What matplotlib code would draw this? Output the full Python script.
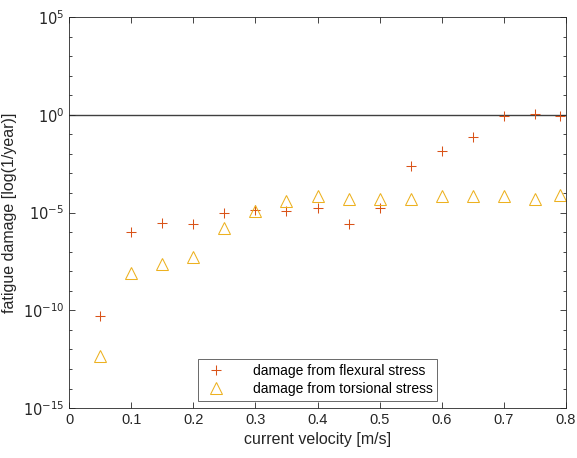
import matplotlib
matplotlib.use("Agg")
import matplotlib.pyplot as plt
from matplotlib.ticker import FixedLocator, NullFormatter
import numpy as np

plt.rcParams["font.family"] = ["Liberation Sans", "DejaVu Sans"]

# current velocity [m/s]
velocity = [0.05, 0.10, 0.15, 0.20, 0.25, 0.30, 0.35, 0.40,
            0.45, 0.50, 0.55, 0.60, 0.65, 0.70, 0.75, 0.79]
# log10 of damage
flexural_exp = [-10.29, -6.01, -5.53, -5.60, -5.04, -4.87, -4.92, -4.75,
                -5.60, -4.77, -2.60, -1.84, -1.12, -0.05, 0.04, -0.05]
torsional_exp = [-12.34, -8.08, -7.65, -7.29, -5.81, -4.90, -4.39, -4.15,
                 -4.31, -4.31, -4.31, -4.14, -4.14, -4.14, -4.31, -4.12]

flexural = [10 ** e for e in flexural_exp]
torsional = [10 ** e for e in torsional_exp]

c_flex = (0.850, 0.325, 0.098)
c_tors = (0.929, 0.694, 0.125)
axcol = (0.15, 0.15, 0.15)

fig = plt.figure(figsize=(5.77, 4.58), dpi=100)
ax = fig.add_axes([0.1196, 0.109, 0.8614, 0.854])

ax.axhline(1.0, color=(0.25, 0.25, 0.25), linewidth=1.0, zorder=1)
ax.plot(velocity, flexural, linestyle="none", marker="+", markersize=7,
        markeredgewidth=0.75, color=c_flex, label="damage from flexural stress")
ax.plot(velocity, torsional, linestyle="none", marker="^", markersize=8,
        markerfacecolor="none", markeredgewidth=0.75, color=c_tors,
        label="damage from torsional stress")

ax.set_yscale("log")
ax.set_xlim(0, 0.8)
ax.set_ylim(1e-15, 1e5)
ax.set_xticks(np.arange(0, 0.81, 0.1))
ax.set_xticklabels(["0", "0.1", "0.2", "0.3", "0.4", "0.5", "0.6", "0.7", "0.8"])
ax.yaxis.set_major_locator(FixedLocator([1e-15, 1e-10, 1e-5, 1e0, 1e5]))
ax.set_yticklabels([r"$10^{-15}$", r"$10^{-10}$", r"$10^{-5}$", r"$10^{0}$", r"$10^{5}$"])
ax.yaxis.set_minor_locator(FixedLocator([10.0 ** k for k in range(-15, 6)]))
ax.yaxis.set_minor_formatter(NullFormatter())

ax.tick_params(which="both", direction="in", top=True, right=True,
               colors=axcol, labelcolor=axcol, labelsize=10.5)
ax.tick_params(which="major", length=4, width=0.6)
ax.tick_params(which="minor", length=2.5, width=0.6)
for s in ax.spines.values():
    s.set_color(axcol)
    s.set_linewidth(0.6)

ax.set_xlabel("current velocity [m/s]", fontsize=11.5, color=axcol)
ax.set_ylabel("fatigue damage [log(1/year)]", fontsize=11.5, color=axcol)

leg = ax.legend(loc="lower center", bbox_to_anchor=(0.5, 0.018), fontsize=10,
                frameon=True, fancybox=False, borderpad=0.35, labelspacing=0.3,
                handletextpad=1.6, handlelength=2.0, borderaxespad=0.0)
leg.get_frame().set_edgecolor(axcol)
leg.get_frame().set_linewidth(0.6)

fig.savefig("out.png", dpi=100)
